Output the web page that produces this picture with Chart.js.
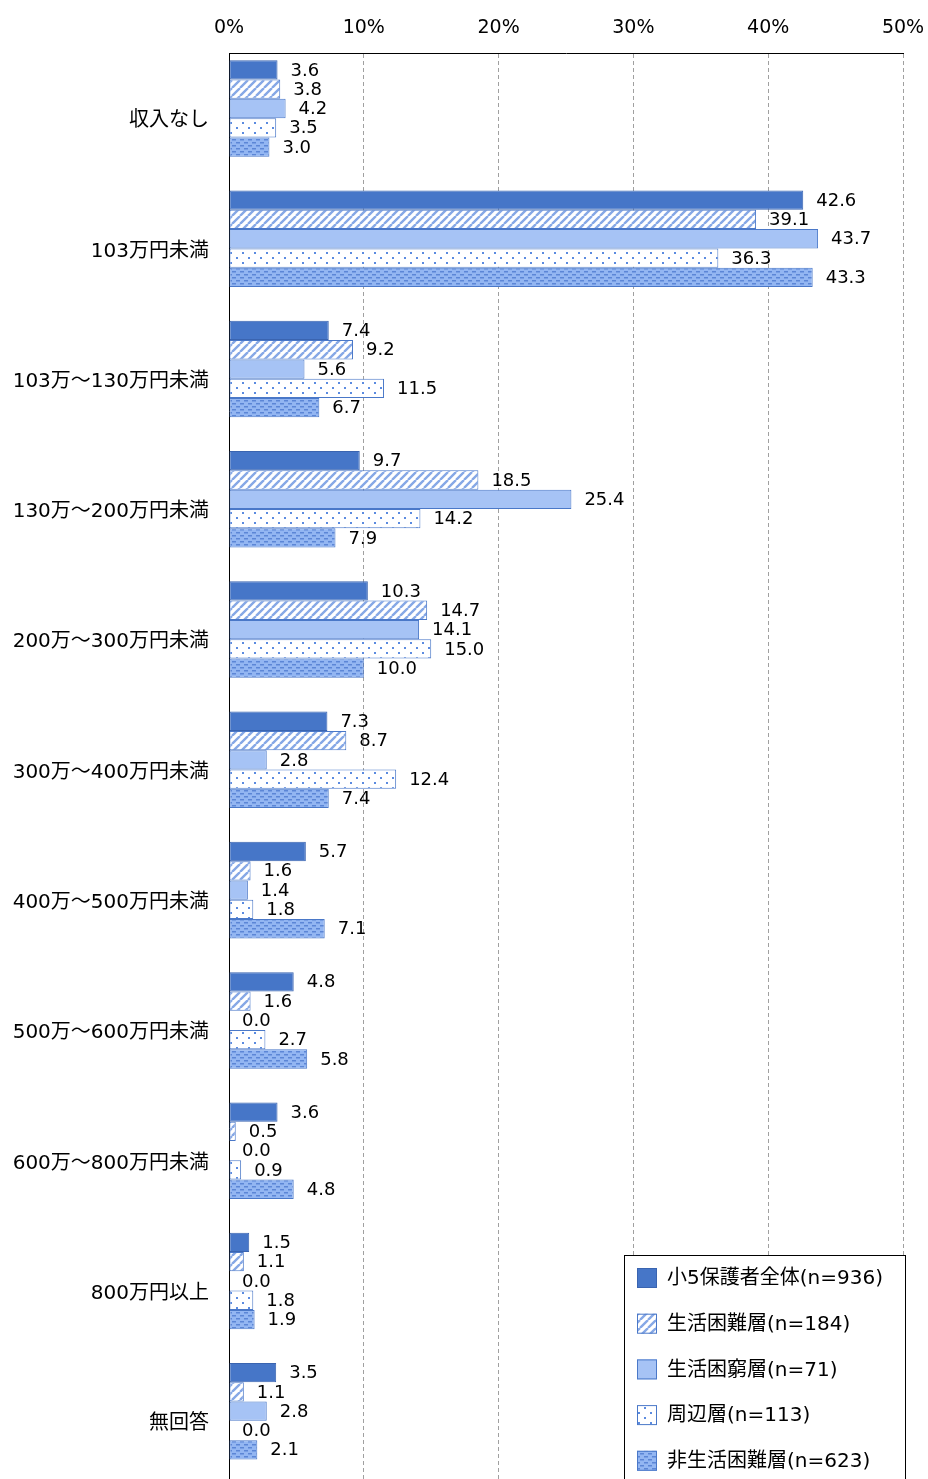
<!DOCTYPE html>
<html>
<head>
<meta charset="utf-8">
<script src="https://cdn.jsdelivr.net/npm/chart.js@4"></script>
<style>
    body { margin: 0; background: #fff; overflow: hidden; }
    canvas { display: block; }
</style>
</head>
<body>
<canvas id="incomeChart" width="928" height="1486"></canvas>
<script>
const categories = ['収入なし', '103万円未満', '103万～130万円未満', '130万～200万円未満', '200万～300万円未満',
    '300万～400万円未満', '400万～500万円未満', '500万～600万円未満', '600万～800万円未満', '800万円以上', '無回答'];
const seriesLabels = ['小5保護者全体(n=936)', '生活困難層(n=184)', '生活困窮層(n=71)', '周辺層(n=113)', '非生活困難層(n=623)'];
const allParents = [3.6, 42.6, 7.4, 9.7, 10.3, 7.3, 5.7, 4.8, 3.6, 1.5, 3.5];
const hardship = [3.8, 39.1, 9.2, 18.5, 14.7, 8.7, 1.6, 1.6, 0.5, 1.1, 1.1];
const poverty = [4.2, 43.7, 5.6, 25.4, 14.1, 2.8, 1.4, 0.0, 0.0, 0.0, 2.8];
const peripheral = [3.5, 36.3, 11.5, 14.2, 15.0, 12.4, 1.8, 2.7, 0.9, 1.8, 0.0];
const nonHardship = [3.0, 43.3, 6.7, 7.9, 10.0, 7.4, 7.1, 5.8, 4.8, 1.9, 2.1];
const tickValues = [0, 10, 20, 30, 40, 50];

const cjkFont = "'DejaVu Sans', 'Noto Sans CJK JP', sans-serif";

function makePattern(w, h, draw) {
    const c = document.createElement('canvas');
    c.width = w;
    c.height = h;
    const g = c.getContext('2d');
    draw(g);
    return document.getElementById('incomeChart').getContext('2d').createPattern(c, 'repeat');
}

// diagonal stripes
const hatch = makePattern(8, 8, g => {
    g.fillStyle = '#ffffff';
    g.fillRect(0, 0, 8, 8);
    g.strokeStyle = '#86a8e6';
    g.lineWidth = 2.4;
    g.beginPath();
    for (let k = -8; k <= 16; k += 8) {
        g.moveTo(k, 8);
        g.lineTo(k + 8, 0);
    }
    g.stroke();
});

// sparse dots
const dots = makePattern(12, 10, g => {
    g.fillStyle = '#ffffff';
    g.fillRect(0, 0, 12, 10);
    g.fillStyle = '#5b8be0';
    g.fillRect(2, 2, 2, 2);
    g.fillRect(8, 7, 2, 2);
});

// small dashes on light blue
const dashes = makePattern(8, 6, g => {
    g.fillStyle = '#93b6f2';
    g.fillRect(0, 0, 8, 6);
    g.fillStyle = '#5c86d6';
    g.fillRect(0, 1, 4, 1.5);
    g.fillRect(4, 4, 4, 1.5);
});

const fills = ['#4676c8', hatch, '#a6c3f5', dots, dashes];
const borders = ['#3a64b0', '#4a78c8', '#4a78c8', '#4a78c8', '#4a78c8'];
const values = [allParents, hardship, poverty, peripheral, nonHardship];

const datasets = seriesLabels.map((label, i) => ({
    label: label,
    data: values[i],
    backgroundColor: fills[i],
    borderColor: borders[i],
    borderWidth: 1,
    borderSkipped: false,
    categoryPercentage: 0.889,
    barPercentage: 1.0
}));
// empty slot under each group, so the five bars sit a little above the label
datasets.push({ label: '', data: [], spacer: true, categoryPercentage: 0.889, barPercentage: 1.0 });

const valueLabels = {
    id: 'valueLabels',
    afterDatasetsDraw(chart) {
        const ctx = chart.ctx;
        ctx.save();
        ctx.font = '18px ' + cjkFont;
        ctx.fillStyle = '#000';
        ctx.textBaseline = 'middle';
        ctx.textAlign = 'left';
        chart.data.datasets.forEach((ds, i) => {
            if (ds.spacer) return;
            chart.getDatasetMeta(i).data.forEach((bar, j) => {
                ctx.fillText(ds.data[j].toFixed(1), bar.x + 13, bar.y + 1);
            });
        });
        ctx.restore();
    }
};

const boxLegend = {
    id: 'boxLegend',
    afterDraw(chart) {
        const ctx = chart.ctx;
        const x = 624, y = 1255;
        ctx.save();
        ctx.fillStyle = '#fff';
        ctx.fillRect(x, y, 281, 240);
        ctx.strokeStyle = '#000';
        ctx.lineWidth = 1;
        ctx.strokeRect(x + 0.5, y + 0.5, 281, 240);
        ctx.font = '20px ' + cjkFont;
        ctx.textBaseline = 'middle';
        chart.data.datasets.filter(ds => !ds.spacer).forEach((ds, i) => {
            const cy = y + 23 + i * 45.7;
            ctx.fillStyle = ds.backgroundColor;
            ctx.fillRect(637, cy - 10, 20, 20);
            ctx.strokeStyle = ds.borderColor;
            ctx.strokeRect(637.5, cy - 9.5, 19, 19);
            ctx.fillStyle = '#000';
            ctx.fillText(ds.label, 667, cy + 1);
        });
        ctx.restore();
    }
};

new Chart(document.getElementById('incomeChart'), {
    type: 'bar',
    data: {
        labels: categories,
        datasets: datasets
    },
    options: {
        indexAxis: 'y',
        responsive: false,
        animation: false,
        layout: { padding: { left: 0, right: 25, top: 0, bottom: 0 } },
        plugins: {
            legend: { display: false },
            tooltip: { enabled: false }
        },
        scales: {
            x: {
                position: 'top',
                min: 0,
                max: 50,
                afterBuildTicks: axis => { axis.ticks = tickValues.map(v => ({ value: v })); },
                afterFit: axis => {
                    axis.height = 53;
                    axis.paddingLeft = 0;
                    axis.paddingRight = 0;
                },
                ticks: {
                    callback: v => v + '%',
                    font: { family: cjkFont, size: 19 },
                    color: '#000',
                    padding: 14,
                    maxRotation: 0
                },
                grid: { color: '#a0a0a0', drawTicks: false },
                border: { display: true, color: '#000', width: 1, dash: [4, 3] }
            },
            y: {
                afterFit: axis => {
                    axis.width = 229;
                    axis.paddingTop = 0;
                    axis.paddingBottom = 0;
                },
                ticks: {
                    font: { family: cjkFont, size: 20 },
                    color: '#000',
                    padding: 20,
                    labelOffset: 3
                },
                grid: { display: false, drawTicks: false },
                border: { display: true, color: '#000', width: 1 }
            }
        }
    },
    plugins: [valueLabels, boxLegend]
});
</script>
</body>
</html>
